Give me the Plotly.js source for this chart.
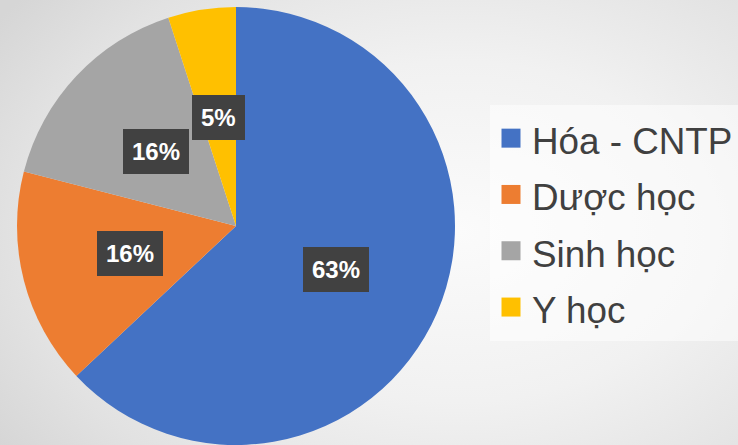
<!DOCTYPE html>
<html>
<head>
<meta charset="utf-8">
<script src="https://cdn.plot.ly/plotly-3.0.1.min.js"></script>
<style>
  html, body { margin: 0; padding: 0; }
  body {
    width: 738px; height: 445px; overflow: hidden;
    background: radial-gradient(ellipse 75% 85% at 62% 52%, #fbfbfb 0%, #f1f1f1 45%, #e2e2e2 80%, #d6d6d6 100%);
  }
  #chart { width: 738px; height: 445px; }
</style>
</head>
<body>
<div id="chart"></div>
<script>
// ---- data ----
const categories = ["Hóa - CNTP", "Dược học", "Sinh học", "Y học"];
const values = [63, 16, 16, 5];
const colors = ["#4472C4", "#ED7D31", "#A5A5A5", "#FFC000"];

// ---- layout geometry ----
const W = 738, H = 445;
const domainX = [0.02304, 0.61653];
const domainY = [0, 0.98427];

const total = values.reduce((a, b) => a + b, 0);
const cx = W * (domainX[0] + domainX[1]) / 2;
const cyTop = H * (1 - (domainY[0] + domainY[1]) / 2);
const R = Math.min(W * (domainX[1] - domainX[0]), H * (domainY[1] - domainY[0])) / 2;

// percentage labels placed at slice mid-angles (clockwise from 12 o'clock)
const annotations = [];
let cum = 0;
values.forEach((v, i) => {
  const mid = (cum + v / 2) / total * 2 * Math.PI;
  cum += v;
  const px = cx + 0.5 * R * Math.sin(mid);
  const py = cyTop - 0.5 * R * Math.cos(mid);
  annotations.push({
    xref: "paper", yref: "paper",
    x: px / W, y: 1 - py / H,
    xanchor: "center", yanchor: "middle",
    showarrow: false,
    text: Math.round(v / total * 100) + "%",
    font: { family: "Liberation Sans, Arial, sans-serif", size: 24, color: "#ffffff", weight: "bold" },
    bgcolor: "#414141",
    borderpad: 9,
    borderwidth: 0
  });
});

const trace = {
  type: "pie",
  labels: categories.map(c => '<span style="font-size:36.8px">' + c + '</span>'),
  values: values,
  sort: false,
  direction: "clockwise",
  rotation: 0,
  marker: { colors: colors, line: { width: 0 } },
  textinfo: "none",
  hoverinfo: "label+percent",
  domain: { x: domainX, y: domainY }
};

const layout = {
  width: W, height: H,
  margin: { l: 0, r: 0, t: 0, b: 0, pad: 0, autoexpand: false },
  paper_bgcolor: "rgba(0,0,0,0)",
  plot_bgcolor: "rgba(0,0,0,0)",
  showlegend: true,
  legend: {
    x: 490 / W, xanchor: "left",
    y: 1 - 105 / H, yanchor: "top",
    bgcolor: "rgba(255,255,255,0.5)",
    borderwidth: 0,
    itemwidth: 32,
    font: { family: "Liberation Sans, Arial, sans-serif", size: 41, color: "#404040" },
    traceorder: "normal"
  },
  annotations: annotations,
  font: { family: "Liberation Sans, Arial, sans-serif" }
};

Plotly.newPlot("chart", [trace], layout, { displayModeBar: false, staticPlot: true }).then(() => {
  document.querySelectorAll("#chart .legendpoints path").forEach(p => {
    p.setAttribute("d", "M9.5,9.5H-9.5V-9.5H9.5Z");
  });
});
</script>
</body>
</html>
